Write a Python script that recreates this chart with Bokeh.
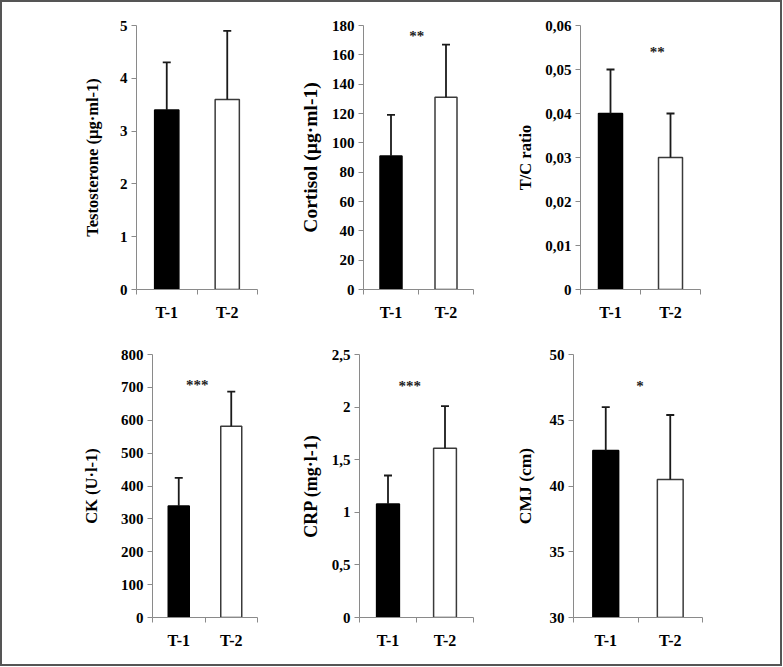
from bokeh.plotting import figure
from bokeh.layouts import column, row
from bokeh.models import (Range1d, FixedTicker, CustomJSTickFormatter, Whisker,
                          TeeHead, ColumnDataSource, Title)
from bokeh.core.properties import value
from bokeh.embed import file_html
from bokeh.resources import INLINE

# ---------------- data ----------------
categories = ["T-1", "T-2"]

testosterone_mean = [3.4, 3.6]
testosterone_sd = [0.9, 1.3]
testosterone_ticks = [0, 1, 2, 3, 4, 5]
testosterone_labels = ["0", "1", "2", "3", "4", "5"]

cortisol_mean = [91, 131]
cortisol_sd = [28, 36]
cortisol_ticks = [0, 20, 40, 60, 80, 100, 120, 140, 160, 180]
cortisol_labels = ["0", "20", "40", "60", "80", "100", "120", "140", "160", "180"]

tc_mean = [0.04, 0.03]
tc_sd = [0.01, 0.01]
tc_ticks = [0, 0.01, 0.02, 0.03, 0.04, 0.05, 0.06]
tc_labels = ["0", "0,01", "0,02", "0,03", "0,04", "0,05", "0,06"]

ck_mean = [339, 582]
ck_sd = [86, 105]
ck_ticks = [0, 100, 200, 300, 400, 500, 600, 700, 800]
ck_labels = ["0", "100", "200", "300", "400", "500", "600", "700", "800"]

crp_mean = [1.08, 1.61]
crp_sd = [0.27, 0.40]
crp_ticks = [0, 0.5, 1, 1.5, 2, 2.5]
crp_labels = ["0", "0,5", "1", "1,5", "2", "2,5"]

cmj_mean = [42.7, 40.5]
cmj_sd = [3.3, 4.9]
cmj_ticks = [30, 35, 40, 45, 50]
cmj_labels = ["30", "35", "40", "45", "50"]

titles = ["Testosterone (µg·ml-1)", "Cortisol (µg·ml-1)", "T/C ratio",
          "CK (U·l-1)", "CRP (mg·l-1)", "CMJ (cm)"]
significance = ["", "**", "**", "***", "***", "*"]
# star position: (x in category units, y in data units)
sig_pos = [None, (0.97, 173), (1.28, 0.0539), (0.85, 706), (0.88, 2.205), (1.03, 47.6)]

FONT = "Liberation Serif"
AXIS_GRAY = "#8a8a8a"


def nearest_formatter(tick_values, tick_labels):
    return CustomJSTickFormatter(args=dict(tv=tick_values, lab=tick_labels), code="""
        let best = 0, d = Infinity;
        for (let i = 0; i < tv.length; i++) {
            const e = Math.abs(tv[i] - tick);
            if (e < d) { d = e; best = i; }
        }
        return lab[best];
    """)


def panel(mean, sd, ticks, labels, ylabel, stars, star_pos,
          width, height, left, right, top, bottom, label_size, label_standoff,
          label_offset=0):
    y0, y1 = ticks[0], ticks[-1]
    p = figure(width=width, height=height, output_backend="svg",
               toolbar_location=None, title=None,
               x_range=Range1d(0, len(categories)), y_range=Range1d(y0, y1),
               min_border_left=left, min_border_right=right,
               min_border_top=top, min_border_bottom=bottom)
    p.outline_line_color = None
    p.xgrid.visible = False
    p.ygrid.visible = False
    p.background_fill_color = "white"
    p.border_fill_color = "white"

    xs = [i + 0.5 for i in range(len(categories))]
    src = ColumnDataSource(dict(
        x=xs, top=mean, upper=[m + s for m, s in zip(mean, sd)],
        fill=["black", "white"], line=["black", "#3a3a3a"]))
    p.vbar(x="x", top="top", bottom=y0, width=0.4, source=src,
           fill_color="fill", line_color="line", line_width=1.5)
    w = Whisker(source=src, base="x", lower="top", upper="upper",
                line_color="#1a1a1a", line_width=1.8,
                upper_head=TeeHead(size=8, line_color="#1a1a1a", line_width=1.8),
                lower_head=None, level="overlay")
    p.add_layout(w)

    if stars:
        p.text(x=[star_pos[0]], y=[star_pos[1]], text=[stars],
               text_font=value(FONT), text_font_style="bold",
               text_font_size="15px", text_align="center",
               text_baseline="middle", text_color="#222222")

    # x axis
    xa = p.xaxis[0]
    xa.ticker = FixedTicker(ticks=xs, minor_ticks=list(range(len(categories) + 1)))
    xa.formatter = nearest_formatter(xs, categories)
    xa.major_tick_out = 0
    xa.major_tick_in = 0
    xa.minor_tick_out = 5
    xa.minor_tick_in = 0
    xa.minor_tick_line_color = AXIS_GRAY
    xa.axis_line_color = AXIS_GRAY
    xa.major_label_standoff = 9
    xa.major_label_text_font = FONT
    xa.major_label_text_font_style = "bold"
    xa.major_label_text_font_size = "16px"
    xa.major_label_text_color = "black"

    # y axis
    ya = p.yaxis[0]
    ya.ticker = FixedTicker(ticks=ticks, minor_ticks=[])
    ya.formatter = nearest_formatter(ticks, labels)
    ya.major_tick_out = 5
    ya.major_tick_in = 0
    ya.major_tick_line_color = AXIS_GRAY
    ya.axis_line_color = AXIS_GRAY
    ya.major_label_standoff = 4
    ya.major_label_text_font = FONT
    ya.major_label_text_font_style = "bold"
    ya.major_label_text_font_size = "15px"
    ya.major_label_text_color = "black"
    if label_offset == 0:
        ya.axis_label = ylabel
        ya.axis_label_text_font = FONT
        ya.axis_label_text_font_style = "bold"
        ya.axis_label_text_font_size = label_size
        ya.axis_label_text_color = "black"
        ya.axis_label_standoff = label_standoff
    else:
        t = Title(text=ylabel, align="center", offset=label_offset,
                  standoff=label_standoff, text_font=FONT,
                  text_font_style="bold", text_font_size=label_size,
                  text_color="black")
        p.add_layout(t, "left")
    return p


p1 = panel(testosterone_mean, testosterone_sd, testosterone_ticks, testosterone_labels,
           titles[0], significance[0], sig_pos[0], 266, 328, 134, 11, 23, 41, "16.5px", 15)
p2 = panel(cortisol_mean, cortisol_sd, cortisol_ticks, cortisol_labels,
           titles[1], significance[1], sig_pos[1], 232, 328, 95, 27, 23, 41, "19.5px", 15,
           label_offset=-25)
p3 = panel(tc_mean, tc_sd, tc_ticks, tc_labels,
           titles[2], significance[2], sig_pos[2], 280, 328, 80, 80, 23, 41, "16.5px", 7)
p4 = panel(ck_mean, ck_sd, ck_ticks, ck_labels,
           titles[3], significance[3], sig_pos[3], 266, 334, 150, 11, 24, 47, "16.5px", 17)
p5 = panel(crp_mean, crp_sd, crp_ticks, crp_labels,
           titles[4], significance[4], sig_pos[4], 232, 334, 91, 27, 24, 47, "18px", 15,
           label_offset=7)
p6 = panel(cmj_mean, cmj_sd, cmj_ticks, cmj_labels,
           titles[5], significance[5], sig_pos[5], 280, 334, 73, 78, 24, 47, "17.5px", 12)

layout = column(row(p1, p2, p3), row(p4, p5, p6),
                styles={"border": "2px solid #555555"})

open("out.html", "w").write(file_html(layout, INLINE))
